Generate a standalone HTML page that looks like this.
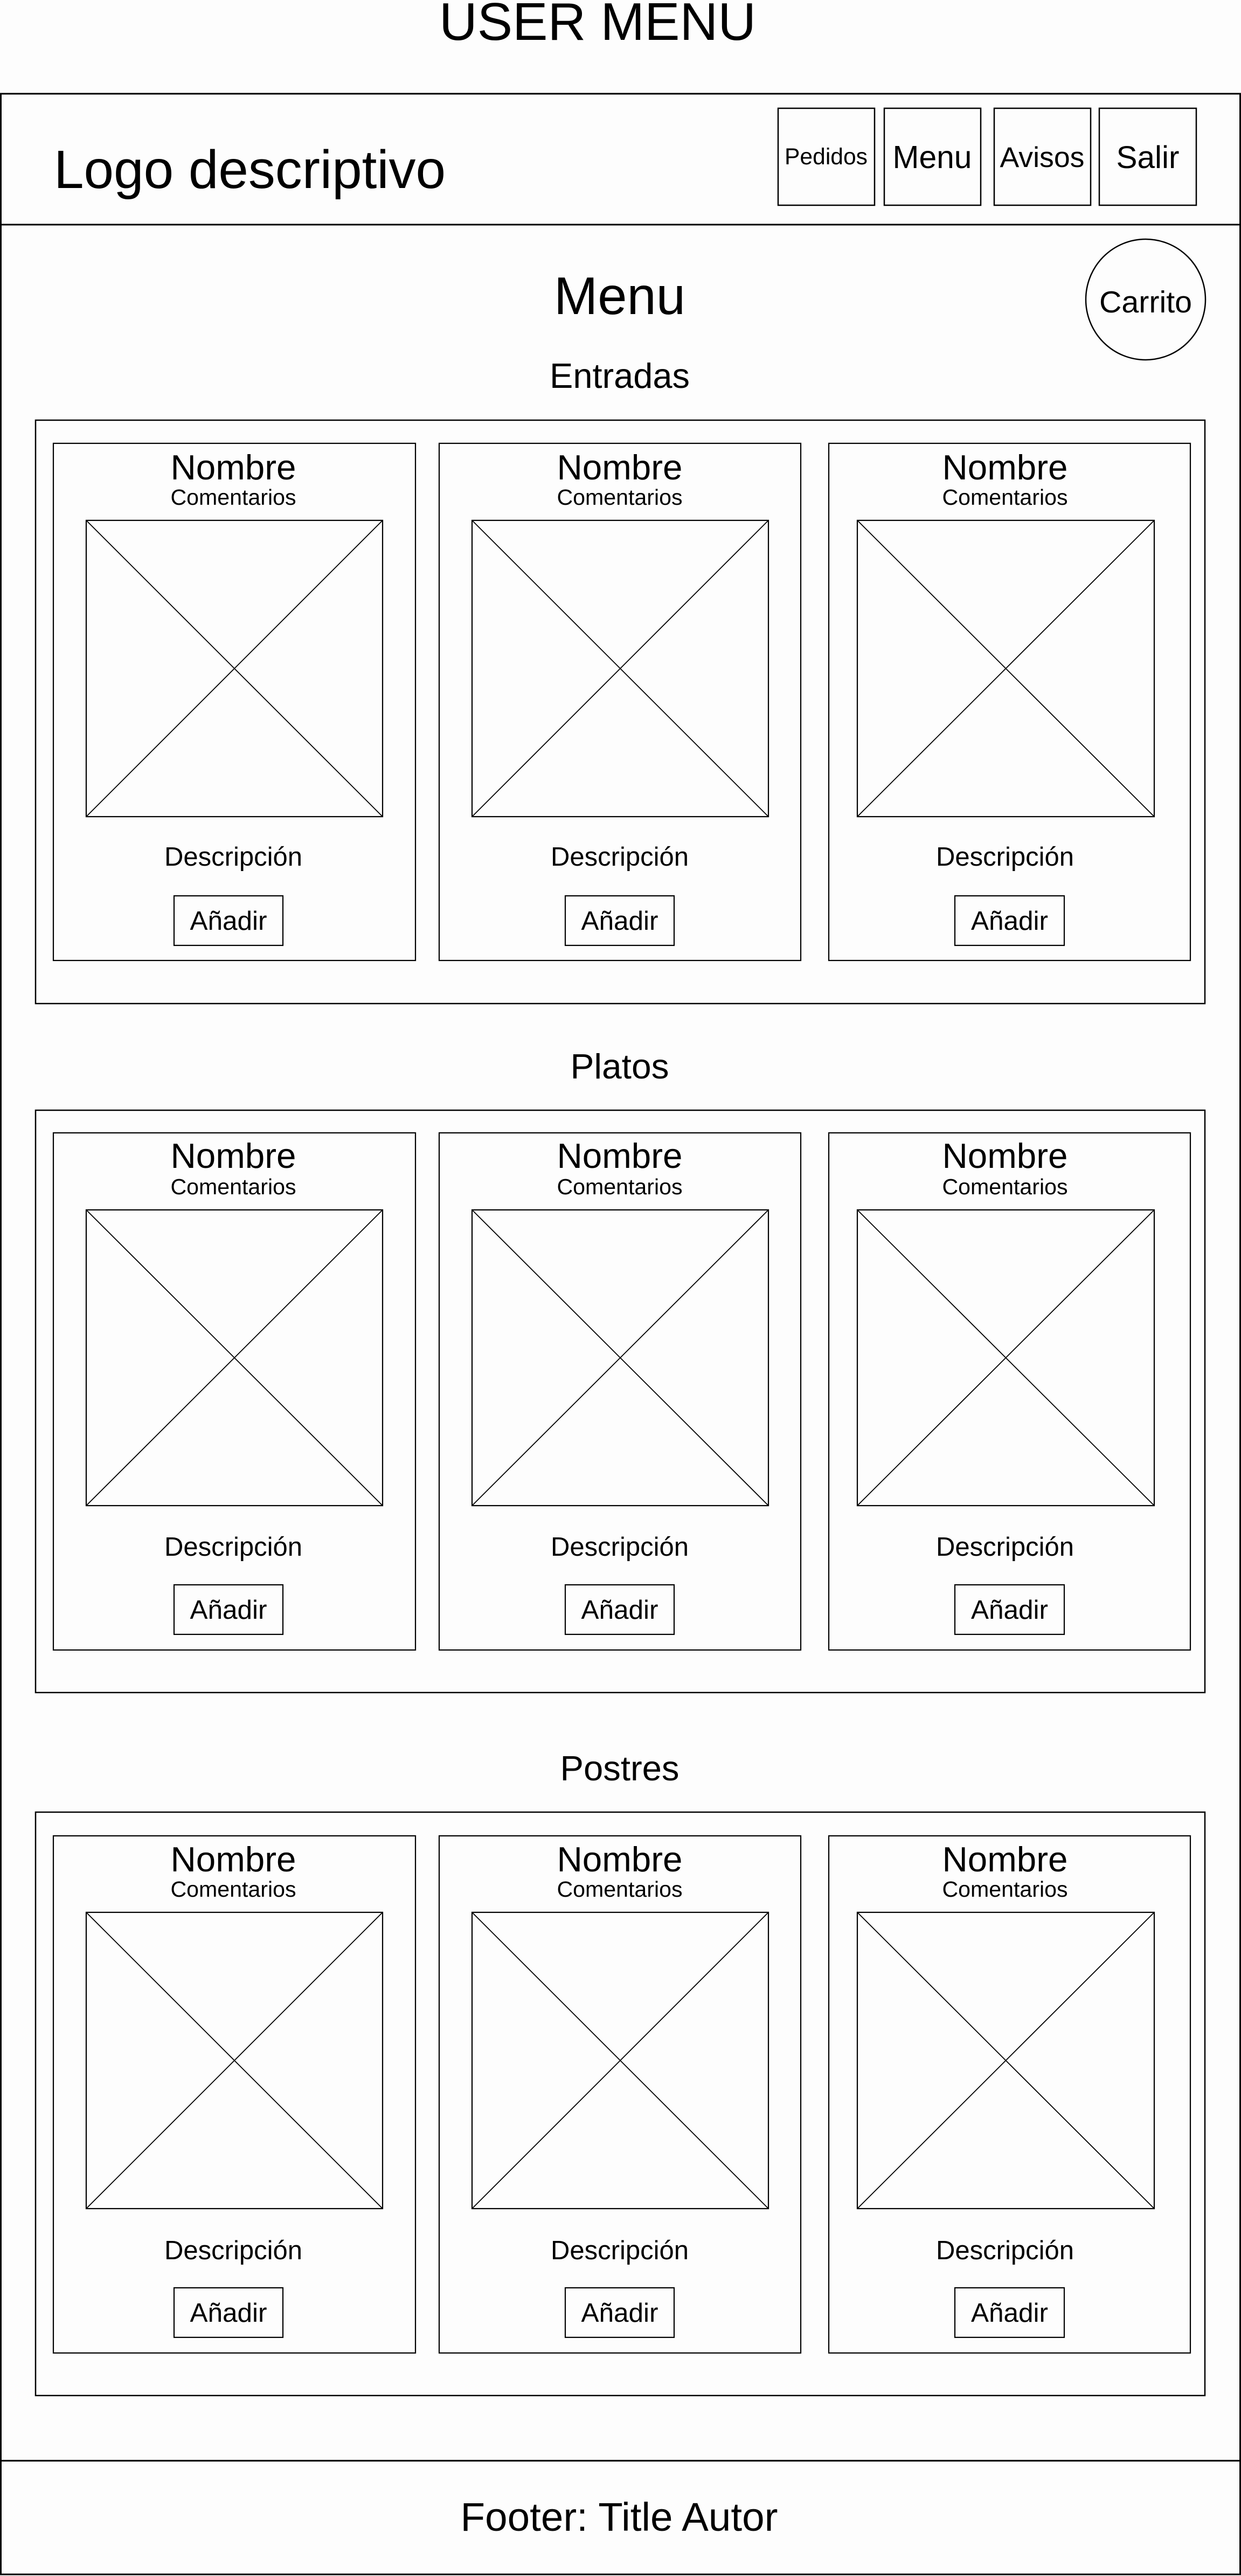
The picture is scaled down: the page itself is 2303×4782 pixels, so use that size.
<!DOCTYPE html>
<html>
<head>
<meta charset="utf-8">
<style>
html,body{margin:0;padding:0;background:#fdfdfd;}
svg{display:block;}
text{font-family:"Liberation Sans",Arial,sans-serif;fill:#000;}
</style>
</head>
<body>
<svg id="page" width="2303" height="4782" viewBox="0 0 2303 4782" xmlns="http://www.w3.org/2000/svg">
  <rect x="0" y="0" width="2303" height="4782" fill="#fdfdfd"/>
  <text x="1109" y="74" font-size="98" text-anchor="middle" textLength="588" lengthAdjust="spacingAndGlyphs">USER MENU</text>

  <rect x="1.5" y="174" width="2300" height="4605" fill="none" stroke="#000" stroke-width="3"/>
  <line x1="0" y1="417" x2="2303" y2="417" stroke="#000" stroke-width="3"/>

  <text x="100" y="349" font-size="100" textLength="727" lengthAdjust="spacingAndGlyphs">Logo descriptivo</text>

  <g>
    <rect x="1444" y="201" width="179" height="180" fill="none" stroke="#000" stroke-width="2.5"/>
    <text x="1533" y="305" font-size="43" text-anchor="middle" textLength="154" lengthAdjust="spacingAndGlyphs">Pedidos</text>
  </g>
  <g>
    <rect x="1641" y="201" width="179" height="180" fill="none" stroke="#000" stroke-width="2.5"/>
    <text x="1730" y="312" font-size="59" text-anchor="middle" textLength="147" lengthAdjust="spacingAndGlyphs">Menu</text>
  </g>
  <g>
    <rect x="1845" y="201" width="179" height="180" fill="none" stroke="#000" stroke-width="2.5"/>
    <text x="1934" y="310" font-size="53" text-anchor="middle" textLength="157" lengthAdjust="spacingAndGlyphs">Avisos</text>
  </g>
  <g>
    <rect x="2040" y="201" width="180" height="180" fill="none" stroke="#000" stroke-width="2.5"/>
    <text x="2130" y="312" font-size="58" text-anchor="middle" textLength="117" lengthAdjust="spacingAndGlyphs">Salir</text>
  </g>

  <text x="1150" y="583" font-size="98" text-anchor="middle" textLength="244" lengthAdjust="spacingAndGlyphs">Menu</text>

  <g>
    <ellipse cx="2126" cy="556" rx="111" ry="112" fill="none" stroke="#000" stroke-width="2.5"/>
    <text x="2126" y="580" font-size="57" text-anchor="middle" textLength="172" lengthAdjust="spacingAndGlyphs">Carrito</text>
  </g>

  <g id="sections"></g>

  <line x1="0" y1="4568" x2="2303" y2="4568" stroke="#000" stroke-width="3"/>
  <text x="1149" y="4698" font-size="74" text-anchor="middle" textLength="589" lengthAdjust="spacingAndGlyphs">Footer: Title Autor</text>
</svg>
<script>
const sectionNames = ["Entradas", "Platos", "Postres"];
const sectionTitleY = [720, 2002, 3305];
const sectionTitleW = [260, 183, 221];
const sectionBox = [[780, 1863], [2061, 3142], [3364, 4447]];
const cardY = [[823, 1783], [2103, 3063], [3408, 4368]];
const imgY = [[966, 1516], [2246, 2795], [3550, 4100]];
const nombreY = [890, 2168, 3474];
const comentY = [937, 2217, 3521];
const descY = [1607, 2888, 4194];
const btnY = [[1663, 1755], [2942, 3034], [4247, 4339]];
const cardX = [[99, 771], [815, 1486], [1538, 2209]];
const textCX = [433, 1150, 1865];
const imgX = [[160, 710], [876, 1426], [1591, 2142]];
const btnX = [[323, 525], [1049, 1251], [1772, 1975]];

const NS = "http://www.w3.org/2000/svg";
const root = document.getElementById("sections");
function mk(tag, attrs, parent) {
  const e = document.createElementNS(NS, tag);
  for (const k in attrs) e.setAttribute(k, attrs[k]);
  parent.appendChild(e);
  return e;
}
sectionNames.forEach((name, s) => {
  const g = mk("g", {}, root);
  
  
  const t = mk("text", {x: 1150, y: sectionTitleY[s], "font-size": 65, "text-anchor": "middle", textLength: sectionTitleW[s], lengthAdjust: "spacingAndGlyphs"}, g);
  t.textContent = name;
  
  
  const box = mk("rect", {x: 66, y: sectionBox[s][0], width: 2170, height: sectionBox[s][1] - sectionBox[s][0], fill: "none", stroke: "#000", "stroke-width": 2.5}, g);
  
  
  for (let c = 0; c < 3; c++) {
    const cg = mk("g", {}, g);
    
    
    const cx0 = cardX[c][0], cx1 = cardX[c][1], cc = textCX[c];
    mk("rect", {x: cx0, y: cardY[s][0], width: cx1 - cx0, height: cardY[s][1] - cardY[s][0], fill: "none", stroke: "#000", "stroke-width": 2.2}, cg);
    const n = mk("text", {x: cc, y: nombreY[s], "font-size": 65, "text-anchor": "middle", textLength: 233, lengthAdjust: "spacingAndGlyphs"}, cg);
    n.textContent = "Nombre";
    
    
    const cm = mk("text", {x: cc, y: comentY[s], "font-size": 41, "text-anchor": "middle", textLength: 233, lengthAdjust: "spacingAndGlyphs"}, cg);
    cm.textContent = "Comentarios";
    
    
    const ig = mk("g", {}, cg);
    
    
    const ix0 = imgX[c][0], ix1 = imgX[c][1], iy0 = imgY[s][0], iy1 = imgY[s][1];
    mk("rect", {x: ix0, y: iy0, width: ix1 - ix0, height: iy1 - iy0, fill: "none", stroke: "#000", "stroke-width": 2.2}, ig);
    mk("line", {x1: ix0, y1: iy0, x2: ix1, y2: iy1, stroke: "#000", "stroke-width": 1.8}, ig);
    mk("line", {x1: ix1, y1: iy0, x2: ix0, y2: iy1, stroke: "#000", "stroke-width": 1.8}, ig);
    const d = mk("text", {x: cc, y: descY[s], "font-size": 49, "text-anchor": "middle", textLength: 256, lengthAdjust: "spacingAndGlyphs"}, cg);
    d.textContent = "Descripción";
    
    
    const bg = mk("g", {}, cg);
    
    
    const bx0 = btnX[c][0], bx1 = btnX[c][1], by0 = btnY[s][0], by1 = btnY[s][1];
    mk("rect", {x: bx0, y: by0, width: bx1 - bx0, height: by1 - by0, fill: "none", stroke: "#000", "stroke-width": 2.2}, bg);
    const bt = mk("text", {x: (bx0 + bx1) / 2, y: by1 - 29, "font-size": 49, "text-anchor": "middle", textLength: 143, lengthAdjust: "spacingAndGlyphs"}, bg);
    bt.textContent = "Añadir";
  }
});
</script>
</body>
</html>
